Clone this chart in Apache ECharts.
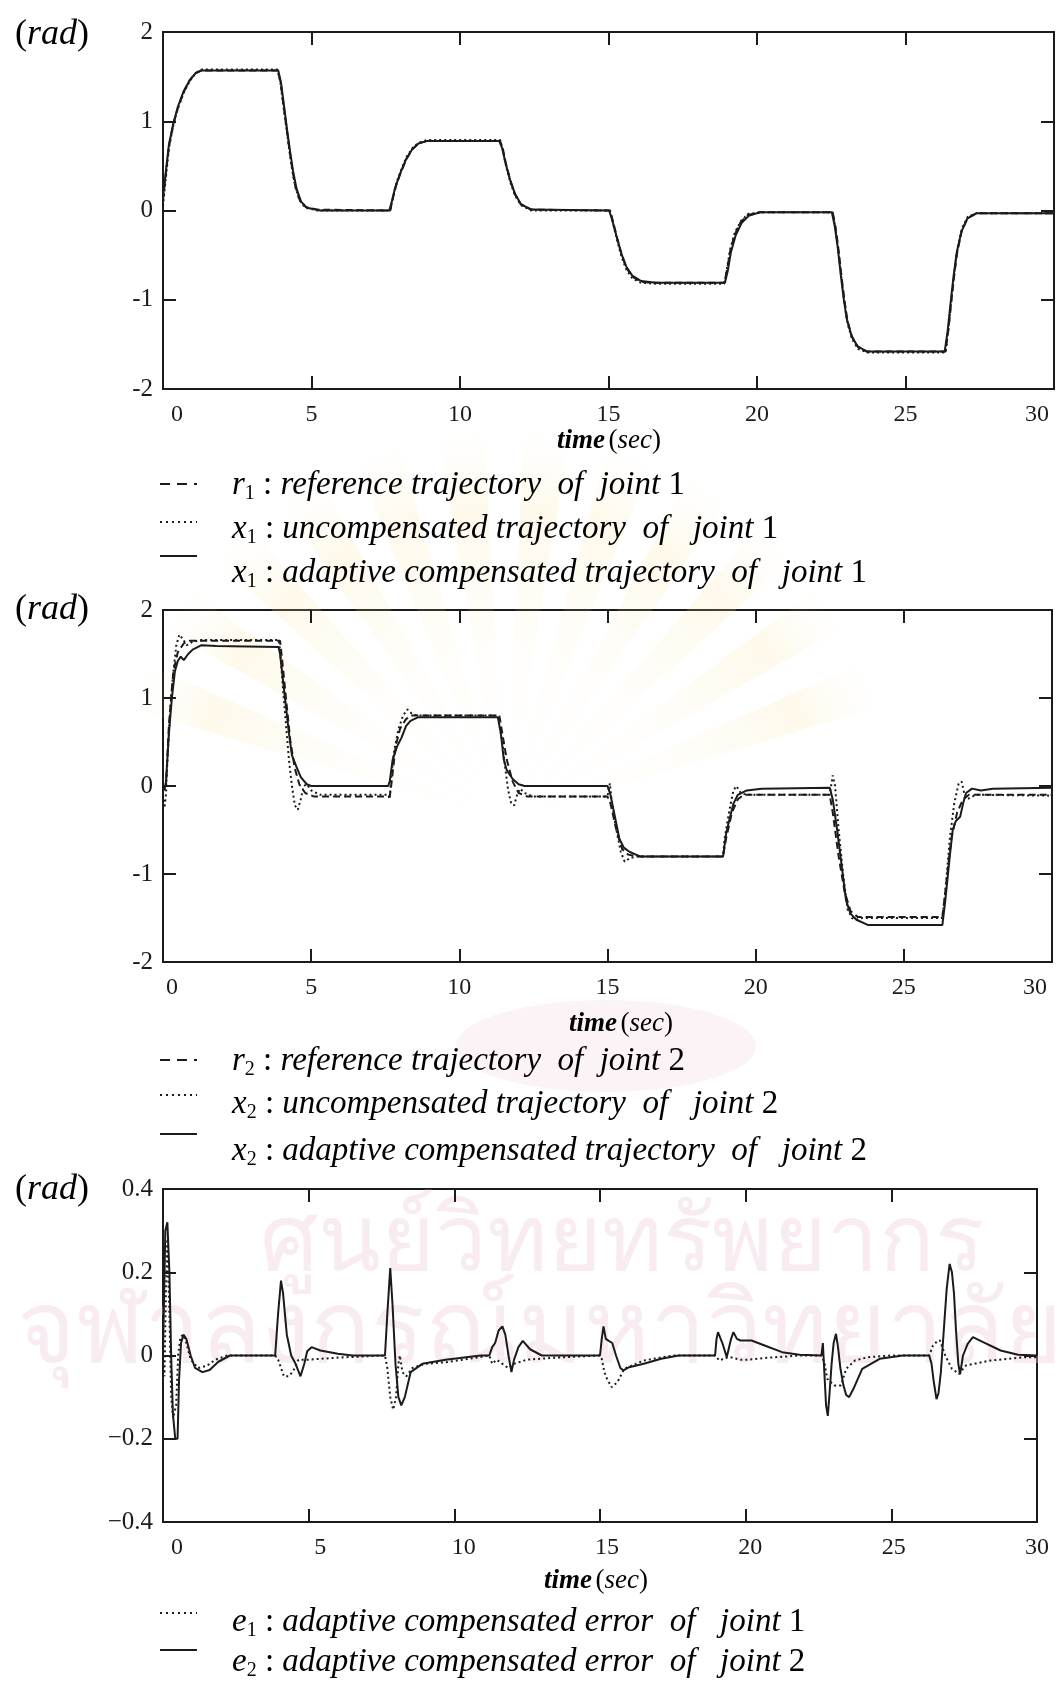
<!DOCTYPE html>
<html>
<head>
<meta charset="utf-8">
<script src="https://cdn.jsdelivr.net/npm/echarts@6/dist/echarts.min.js"></script>
<style>
  html, body { margin: 0; padding: 0; background: #ffffff; }
  #chart { width: 1061px; height: 1683px; }
</style>
</head>
<body>
<div id="chart"></div>
<script>
// ---- axis ticks --------------------------------------------------------
const timeTicks = [0, 5, 10, 15, 20, 25, 30];
const angleTicks = [-2, -1, 0, 1, 2];
const errorTicks = [-0.4, -0.2, 0, 0.2, 0.4];

// ---- joint 1 : [time (sec), angle (rad)] --------------------------------
const r1 = [[0,0.12],[0.1,0.42],[0.2,0.72],[0.35,0.97],[0.5,1.15],[0.7,1.33],[0.9,1.46],[1.1,1.54],[1.3,1.57],
  [3.85,1.57],[3.95,1.46],[4.05,1.2],[4.15,0.95],[4.25,0.7],[4.35,0.47],[4.45,0.28],[4.6,0.12],[4.8,0.04],[5.2,0.01],
  [7.65,0],[7.75,0.15],[7.85,0.28],[8.0,0.42],[8.2,0.58],[8.4,0.69],[8.6,0.75],[8.9,0.78],
  [11.35,0.78],[11.45,0.68],[11.55,0.52],[11.7,0.33],[11.85,0.18],[12.05,0.07],[12.4,0.01],
  [15.05,0],[15.15,-0.12],[15.3,-0.32],[15.45,-0.5],[15.6,-0.64],[15.8,-0.74],[16.1,-0.8],[16.6,-0.81],
  [18.9,-0.81],[19.0,-0.65],[19.1,-0.45],[19.25,-0.27],[19.45,-0.13],[19.7,-0.05],[20.1,-0.02],
  [22.55,-0.02],[22.65,-0.2],[22.75,-0.45],[22.85,-0.75],[22.95,-1.02],[23.05,-1.24],[23.2,-1.42],[23.4,-1.53],[23.7,-1.58],
  [26.35,-1.58],[26.45,-1.32],[26.55,-1.0],[26.65,-0.7],[26.75,-0.45],[26.9,-0.22],[27.1,-0.08],[27.4,-0.03],[30,-0.03]];
const x1Uncomp = [[0,0.05],[0.1,0.38],[0.2,0.7],[0.35,0.96],[0.5,1.14],[0.7,1.32],[0.9,1.45],[1.1,1.54],[1.3,1.58],
  [3.85,1.58],[3.95,1.44],[4.05,1.18],[4.15,0.93],[4.25,0.68],[4.35,0.45],[4.45,0.27],[4.6,0.11],[4.8,0.03],[5.2,0.0],
  [7.65,0],[7.75,0.16],[7.85,0.3],[8.0,0.44],[8.2,0.6],[8.4,0.7],[8.6,0.76],[8.9,0.79],
  [11.35,0.79],[11.45,0.67],[11.55,0.5],[11.7,0.31],[11.85,0.17],[12.05,0.06],[12.4,0.0],
  [15.05,0],[15.15,-0.14],[15.3,-0.35],[15.45,-0.53],[15.6,-0.66],[15.8,-0.76],[16.1,-0.81],[16.6,-0.82],
  [18.9,-0.82],[19.0,-0.63],[19.1,-0.43],[19.25,-0.25],[19.45,-0.12],[19.7,-0.04],[20.1,-0.02],
  [22.55,-0.02],[22.65,-0.22],[22.75,-0.48],[22.85,-0.78],[22.95,-1.05],[23.05,-1.27],[23.2,-1.44],[23.4,-1.55],[23.7,-1.59],
  [26.35,-1.59],[26.45,-1.3],[26.55,-0.98],[26.65,-0.68],[26.75,-0.43],[26.9,-0.2],[27.1,-0.07],[27.4,-0.03],[30,-0.03]];
const x1Adapt = [[0,0.15],[0.1,0.45],[0.2,0.74],[0.35,0.98],[0.5,1.16],[0.7,1.34],[0.9,1.46],[1.1,1.54],[1.3,1.57],
  [3.88,1.57],[3.98,1.42],[4.08,1.16],[4.18,0.9],[4.28,0.66],[4.38,0.44],[4.5,0.24],[4.65,0.1],[4.85,0.03],[5.3,0.0],
  [7.62,0],[7.72,0.12],[7.82,0.26],[7.98,0.41],[8.18,0.57],[8.38,0.68],[8.6,0.75],[8.9,0.78],
  [11.32,0.78],[11.42,0.7],[11.52,0.55],[11.68,0.35],[11.85,0.19],[12.05,0.07],[12.4,0.01],
  [15.02,0],[15.12,-0.1],[15.28,-0.3],[15.43,-0.48],[15.6,-0.63],[15.8,-0.73],[16.1,-0.79],[16.6,-0.81],
  [18.92,-0.81],[19.02,-0.67],[19.12,-0.47],[19.28,-0.28],[19.48,-0.14],[19.72,-0.06],[20.1,-0.02],
  [22.52,-0.02],[22.62,-0.18],[22.72,-0.42],[22.82,-0.72],[22.92,-0.99],[23.02,-1.21],[23.18,-1.4],[23.38,-1.52],[23.7,-1.58],
  [26.32,-1.58],[26.42,-1.35],[26.52,-1.03],[26.62,-0.73],[26.72,-0.48],[26.88,-0.24],[27.08,-0.09],[27.4,-0.03],[30,-0.03]];

// ---- joint 2 : [time (sec), angle (rad)] --------------------------------
const r2 = [[0,0.0],[0.1,0.0],[0.2,0.7],[0.35,1.3],[0.5,1.52],[0.7,1.62],[0.9,1.65],
  [3.95,1.65],[4.0,1.5],[4.15,1.0],[4.3,0.5],[4.45,0.2],[4.6,0.02],[4.8,-0.08],[5.1,-0.12],
  [7.65,-0.12],[7.7,0.0],[7.85,0.45],[8.0,0.65],[8.2,0.76],[8.4,0.8],
  [11.35,0.8],[11.45,0.6],[11.6,0.3],[11.8,0.05],[12.0,-0.08],[12.3,-0.12],
  [15.0,-0.12],[15.1,-0.2],[15.3,-0.5],[15.5,-0.72],[15.7,-0.78],[16.0,-0.8],
  [18.9,-0.8],[19.0,-0.6],[19.2,-0.3],[19.4,-0.15],[19.6,-0.1],
  [22.5,-0.1],[22.6,-0.3],[22.8,-0.8],[23.0,-1.2],[23.2,-1.42],[23.45,-1.49],
  [26.3,-1.49],[26.4,-1.2],[26.6,-0.6],[26.8,-0.3],[27.0,-0.15],[27.2,-0.1],[30,-0.1]];
const x2Uncomp = [[0,-0.1],[0.05,-0.25],[0.1,-0.1],[0.15,0.3],[0.25,0.9],[0.35,1.3],[0.45,1.6],[0.55,1.72],[0.65,1.68],[0.8,1.6],[1.0,1.64],[1.3,1.66],
  [3.9,1.66],[3.95,1.55],[4.05,1.1],[4.15,0.7],[4.25,0.3],[4.35,0.0],[4.45,-0.22],[4.55,-0.27],[4.65,-0.15],[4.75,0.0],[4.85,0.02],[5.0,-0.05],[5.3,-0.1],
  [7.6,-0.1],[7.65,-0.15],[7.7,0.1],[7.8,0.4],[7.95,0.65],[8.1,0.8],[8.25,0.87],[8.4,0.82],[8.6,0.8],
  [11.3,0.8],[11.35,0.82],[11.45,0.5],[11.55,0.2],[11.65,-0.05],[11.75,-0.2],[11.85,-0.22],[11.95,-0.1],[12.05,-0.03],[12.2,-0.08],[12.5,-0.12],
  [15.0,-0.12],[15.08,0.03],[15.15,-0.2],[15.3,-0.5],[15.45,-0.75],[15.58,-0.86],[15.75,-0.82],[16.0,-0.8],
  [18.9,-0.8],[18.95,-0.6],[19.1,-0.3],[19.25,-0.05],[19.35,0.0],[19.5,-0.08],[19.7,-0.1],
  [22.5,-0.1],[22.6,0.12],[22.68,0.0],[22.8,-0.5],[22.95,-1.0],[23.1,-1.4],[23.25,-1.5],[23.4,-1.52],[23.6,-1.5],
  [26.3,-1.5],[26.4,-1.2],[26.55,-0.6],[26.7,-0.2],[26.85,0.03],[26.95,0.05],[27.05,-0.1],[27.15,-0.15],[27.3,-0.12],[27.5,-0.1],[30,-0.11]];
const x2Adapt = [[0,0.0],[0.05,-0.05],[0.1,0.05],[0.2,0.6],[0.3,1.0],[0.4,1.3],[0.5,1.42],[0.6,1.47],[0.7,1.43],[0.85,1.5],[1.0,1.55],[1.3,1.6],[1.8,1.59],
  [3.9,1.58],[3.95,1.5],[4.05,1.2],[4.15,0.9],[4.25,0.6],[4.35,0.35],[4.5,0.22],[4.65,0.1],[4.85,0.02],[5.0,0.0],
  [7.6,0.0],[7.65,0.05],[7.75,0.3],[7.9,0.45],[8.05,0.55],[8.2,0.68],[8.35,0.74],[8.6,0.78],
  [11.3,0.78],[11.4,0.6],[11.5,0.3],[11.6,0.18],[11.8,0.08],[12.0,0.02],[12.2,0.0],
  [15.0,0.0],[15.1,-0.1],[15.25,-0.35],[15.4,-0.6],[15.55,-0.7],[15.75,-0.75],[16.1,-0.8],
  [18.9,-0.8],[19.0,-0.55],[19.1,-0.4],[19.25,-0.2],[19.4,-0.1],[19.7,-0.05],[20.2,-0.03],
  [22.5,-0.02],[22.6,-0.15],[22.75,-0.5],[22.9,-0.9],[23.05,-1.3],[23.2,-1.45],[23.4,-1.52],[23.8,-1.58],
  [26.3,-1.58],[26.4,-1.3],[26.55,-0.8],[26.65,-0.5],[26.75,-0.4],[26.9,-0.35],[27.0,-0.2],[27.1,-0.08],[27.3,-0.03],[27.6,-0.05],[28.0,-0.03],[30,-0.02]];

// ---- tracking errors : [time (sec), error (rad)] --------------------------
const e1 = [[0,0],[0.05,-0.05],[0.1,0.15],[0.15,0.28],[0.22,0.1],[0.28,-0.1],[0.35,-0.15],[0.45,-0.12],[0.52,0.0],[0.6,0.045],[0.7,0.05],[0.8,0.03],[0.95,-0.01],[1.2,-0.03],[1.5,-0.025],[1.8,-0.01],[2.2,0],
  [3.85,0],[3.95,-0.01],[4.05,-0.03],[4.15,-0.05],[4.3,-0.05],[4.45,-0.04],[4.65,-0.01],[5.0,-0.01],[6.0,-0.005],
  [7.62,0],[7.7,-0.03],[7.8,-0.1],[7.9,-0.13],[8.0,-0.1],[8.08,-0.02],[8.13,0.0],[8.22,-0.04],[8.35,-0.05],[8.56,-0.03],[9.0,-0.02],[9.74,-0.016],[10.5,-0.008],
  [11.2,0],[11.3,-0.02],[11.45,-0.01],[11.65,-0.02],[11.85,-0.03],[12.05,-0.02],[12.5,-0.01],[13.5,-0.005],
  [15.0,0],[15.06,-0.008],[15.15,-0.04],[15.24,-0.056],[15.4,-0.076],[15.6,-0.064],[15.83,-0.032],[16.5,-0.012],[17.5,0],
  [18.95,0],[19.1,-0.012],[19.3,-0.006],[19.46,-0.004],[19.8,-0.01],[20.06,-0.01],[20.65,-0.006],[21.85,0],
  [22.6,0],[22.7,-0.016],[22.8,-0.056],[23.04,-0.072],[23.27,-0.072],[23.45,-0.032],[23.75,-0.012],[24.2,-0.004],[25,0],
  [26.3,0],[26.43,0.024],[26.6,0.036],[26.67,0.036],[26.85,0],[27.08,-0.032],[27.32,-0.044],[27.56,-0.024],[28.4,-0.012],[29.6,-0.004],[30,-0.004]];
const e2 = [[0,0],[0.08,0.3],[0.15,0.32],[0.22,0.2],[0.28,0.0],[0.34,-0.14],[0.42,-0.2],[0.5,-0.2],[0.55,-0.06],[0.62,0.03],[0.7,0.05],[0.8,0.04],[0.95,0.0],[1.1,-0.03],[1.35,-0.04],[1.6,-0.035],[1.9,-0.015],[2.3,0],
  [3.85,0],[3.95,0.1],[4.05,0.18],[4.12,0.15],[4.25,0.05],[4.4,0.0],[4.55,-0.02],[4.72,-0.05],[4.85,-0.02],[4.95,0.01],[5.1,0.02],[5.4,0.012],[6.0,0.004],[6.5,0],
  [7.62,0],[7.7,0.1],[7.8,0.21],[7.88,0.12],[7.98,-0.02],[8.08,-0.1],[8.18,-0.12],[8.3,-0.1],[8.5,-0.04],[8.9,-0.02],[9.7,-0.01],[10.9,0],
  [11.2,0],[11.3,0.02],[11.4,0.03],[11.52,0.06],[11.65,0.07],[11.75,0.05],[11.86,0.0],[11.96,-0.04],[12.05,-0.01],[12.2,0.02],[12.35,0.035],[12.6,0.015],[13.0,0],
  [15.0,0],[15.06,0.04],[15.12,0.07],[15.2,0.04],[15.3,0.035],[15.42,0.03],[15.55,0.0],[15.7,-0.03],[15.8,-0.036],[16.0,-0.028],[16.5,-0.02],[17.1,-0.008],[17.7,0],
  [18.95,0],[19.0,0.04],[19.05,0.056],[19.2,0.03],[19.35,-0.004],[19.5,0.04],[19.58,0.056],[19.7,0.04],[19.82,0.036],[20.2,0.036],[20.65,0.024],[21.25,0.008],[21.85,0.002],
  [22.6,0],[22.65,0.03],[22.7,-0.04],[22.76,-0.12],[22.82,-0.145],[22.88,-0.09],[22.95,-0.02],[23.02,0.03],[23.1,0.052],[23.17,0.02],[23.25,-0.03],[23.35,-0.07],[23.45,-0.095],[23.55,-0.1],[23.7,-0.08],[24.0,-0.032],[24.6,-0.008],[25.4,0],
  [26.3,0],[26.38,-0.02],[26.45,-0.06],[26.55,-0.105],[26.62,-0.09],[26.7,-0.04],[26.8,0.06],[26.9,0.16],[27.0,0.22],[27.08,0.2],[27.15,0.15],[27.22,0.06],[27.3,-0.02],[27.36,-0.045],[27.46,0.0],[27.62,0.028],[27.8,0.044],[28.15,0.032],[28.75,0.012],[29.35,0.002],[30,0]];

// ---- legend captions ----------------------------------------------------
const legend1 = [['r', '1', 'reference trajectory  of  joint ', '1'],
                 ['x', '1', 'uncompensated trajectory  of   joint ', '1'],
                 ['x', '1', 'adaptive compensated trajectory  of   joint ', '1']];
const legend2 = [['r', '2', 'reference trajectory  of  joint ', '2'],
                 ['x', '2', 'uncompensated trajectory  of   joint ', '2'],
                 ['x', '2', 'adaptive compensated trajectory  of   joint ', '2']];
const legend3 = [['e', '1', 'adaptive compensated error  of   joint ', '1'],
                 ['e', '2', 'adaptive compensated error  of   joint ', '2']];

// ---- styling ------------------------------------------------------------
const SERIF = 'Liberation Serif, Times New Roman, serif';
const INK = '#1b1b1b';
const DASH = [7, 4];
const DOT = [2, 3];

// labelShift: the end labels of the time axis sit a little inside the frame
const panels = [
  { box: { left: 163, top: 32, width: 891, height: 357 }, labelShift: [14, -17],
    yMin: -2, yMax: 2, yStep: 1, minus: '-',
    series: [[r1, DASH], [x1Uncomp, DOT], [x1Adapt, 'solid']] },
  { box: { left: 163, top: 610, width: 889, height: 352 }, labelShift: [9, -17],
    yMin: -2, yMax: 2, yStep: 1, minus: '-',
    series: [[r2, DASH], [x2Uncomp, DOT], [x2Adapt, 'solid']] },
  { box: { left: 163, top: 1189, width: 874, height: 333 }, labelBox: { left: 177, width: 860 },
    yMin: -0.4, yMax: 0.4, yStep: 0.2, minus: '\u2212',
    series: [[e1, DOT], [e2, 'solid']] }
];

const grid = [], xAxis = [], yAxis = [], series = [];
const tickStyle = { show: true, inside: true, length: 13, lineStyle: { color: INK, width: 2 } };
const noLine = { show: false, onZero: false };
const labelFont = { color: INK, fontFamily: SERIF, fontSize: 24 };

panels.forEach(function (p) {
  const g = grid.length;
  grid.push(Object.assign({ show: true, borderColor: INK, borderWidth: 2, backgroundColor: 'transparent' }, p.box));

  const xi = xAxis.length;
  const tMin = timeTicks[0], tMax = timeTicks[timeTicks.length - 1], tStep = timeTicks[1] - timeTicks[0];
  let bottomLabel = { show: false };
  if (p.labelShift) {
    const sh = p.labelShift;
    bottomLabel = Object.assign({ show: true, margin: 14,
      formatter: function (v) {
        if (v === tMin) return '{a|' + v + '}';
        if (v === tMax) return '{z|' + v + '}';
        return '{m|' + v + '}';
      },
      rich: {
        a: Object.assign({ padding: [0, 0, 0, 2 * sh[0]] }, labelFont),
        z: Object.assign({ padding: [0, -2 * sh[1], 0, 0] }, labelFont),
        m: Object.assign({}, labelFont)
      } }, labelFont);
  }
  // bottom and top frame edges carry inward ticks
  xAxis.push({ type: 'value', gridIndex: g, min: tMin, max: tMax, interval: tStep, position: 'bottom',
    axisLine: noLine, axisTick: tickStyle, axisLabel: bottomLabel, splitLine: { show: false } });
  xAxis.push({ type: 'value', gridIndex: g, min: tMin, max: tMax, interval: tStep, position: 'top',
    axisLine: noLine, axisTick: tickStyle, axisLabel: { show: false }, splitLine: { show: false } });

  const yi = yAxis.length;
  yAxis.push({ type: 'value', gridIndex: g, min: p.yMin, max: p.yMax, interval: p.yStep, position: 'left',
    axisLine: noLine, axisTick: tickStyle, splitLine: { show: false },
    axisLabel: Object.assign({ show: true, margin: 10, fontSize: 25,
      formatter: function (v) { const r = Math.round(v * 10) / 10; return String(r).replace('-', p.minus); } },
      { color: INK, fontFamily: SERIF }) });
  yAxis.push({ type: 'value', gridIndex: g, min: p.yMin, max: p.yMax, interval: p.yStep, position: 'right',
    axisLine: noLine, axisTick: tickStyle, axisLabel: { show: false }, splitLine: { show: false } });

  if (p.labelBox) {
    // separate scale for the printed time labels
    const lg = grid.length;
    grid.push({ show: false, left: p.labelBox.left, width: p.labelBox.width, top: p.box.top, height: p.box.height });
    xAxis.push({ type: 'value', gridIndex: lg, min: tMin, max: tMax, interval: tStep, position: 'bottom',
      axisLine: noLine, axisTick: { show: false }, splitLine: { show: false },
      axisLabel: Object.assign({ show: true, margin: 14 }, labelFont) });
    yAxis.push({ type: 'value', gridIndex: lg, min: p.yMin, max: p.yMax, show: false });
  }

  p.series.forEach(function (s) {
    series.push({ type: 'line', xAxisIndex: xi, yAxisIndex: yi, data: s[0], symbol: 'none', showSymbol: false,
      clip: true, silent: true, z: 3,
      lineStyle: { color: INK, width: 2, type: s[1] } });
  });
});

// ---- annotation text ------------------------------------------------------
const rich = {
  i: { fontFamily: SERIF, fontStyle: 'italic', fontSize: 33, lineHeight: 38, color: INK },
  n: { fontFamily: SERIF, fontSize: 33, lineHeight: 38, color: INK },
  s: { fontFamily: SERIF, fontSize: 20, lineHeight: 22, verticalAlign: 'bottom', color: INK },
  b: { fontFamily: SERIF, fontStyle: 'italic', fontWeight: 'bold', fontSize: 27, lineHeight: 34, color: INK },
  t: { fontFamily: SERIF, fontStyle: 'italic', fontSize: 27, lineHeight: 34, color: INK },
  p: { fontFamily: SERIF, fontSize: 27, lineHeight: 34, color: INK },
  ri: { fontFamily: SERIF, fontStyle: 'italic', fontSize: 36, lineHeight: 42, color: INK },
  rp: { fontFamily: SERIF, fontSize: 36, lineHeight: 42, color: INK }
};

function label(x, y, text, align) {
  return { type: 'text', x: x, y: y, z: 5, silent: true,
    style: { text: text, rich: rich, align: align || 'left', verticalAlign: 'middle' } };
}
function sample(y, dash) {
  return { type: 'line', z: 5, silent: true, shape: { x1: 160, y1: y, x2: 197, y2: y },
    style: { stroke: INK, lineWidth: 2, lineDash: dash } };
}
function caption(row) {
  return '{i|' + row[0] + '}{s|' + row[1] + '}{n| : }{i|' + row[2] + '}{n|' + row[3] + '}';
}

// pale emblem behind the page: a fan of rays and an oval
const emblem = [];
const fanX = 505, fanY = 820, fanR = 390;
for (let k = 0; k < 12; k++) {
  const a = (-160 + k * 12.7) * Math.PI / 180, w = 3.4 * Math.PI / 180;
  emblem.push({ type: 'polygon', z: 0, silent: true,
    shape: { points: [[fanX, fanY],
      [fanX + fanR * Math.cos(a - w), fanY + fanR * Math.sin(a - w)],
      [fanX + fanR * Math.cos(a + w), fanY + fanR * Math.sin(a + w)]] },
    style: { fill: new echarts.graphic.RadialGradient(fanX, fanY, fanR, [
      { offset: 0, color: 'rgba(250,230,165,0)' },
      { offset: 0.45, color: 'rgba(250,230,165,0.06)' },
      { offset: 0.8, color: 'rgba(250,226,155,0.2)' },
      { offset: 1, color: 'rgba(250,235,190,0)' }], true) } });
}
emblem.push({ type: 'ellipse', z: 0, silent: true, shape: { cx: 606, cy: 1046, rx: 150, ry: 46 },
  style: { fill: 'rgba(240,200,218,0.22)' } });

const graphic = emblem.concat([
  // library watermark
  { type: 'text', x: 622, y: 1245, z: 0, silent: true,
    style: { text: 'ศูนย์วิทยทรัพยากร', font: '92px sans-serif', fill: 'rgba(236,204,220,0.38)', align: 'center', verticalAlign: 'middle' } },
  { type: 'text', x: 540, y: 1334, z: 0, silent: true,
    style: { text: 'จุฬาลงกรณ์มหาวิทยาลัย', font: '100px sans-serif', fill: 'rgba(236,204,220,0.38)', align: 'center', verticalAlign: 'middle' } },

  label(52, 35, '{rp|(}{ri|rad}{rp|)}', 'center'),
  label(52, 610, '{rp|(}{ri|rad}{rp|)}', 'center'),
  label(52, 1190, '{rp|(}{ri|rad}{rp|)}', 'center'),

  label(609, 441, '{b|time} {p|(}{t|sec}{p|)}', 'center'),
  label(621, 1024, '{b|time} {p|(}{t|sec}{p|)}', 'center'),
  label(596, 1581, '{b|time} {p|(}{t|sec}{p|)}', 'center'),

  sample(484, [10, 7]), label(232, 485, caption(legend1[0])),
  sample(522, [2, 4]),  label(232, 529, caption(legend1[1])),
  sample(556, null),    label(232, 573, caption(legend1[2])),

  sample(1060, [10, 7]), label(232, 1061, caption(legend2[0])),
  sample(1095, [2, 4]),  label(232, 1104, caption(legend2[1])),
  sample(1134, null),    label(232, 1151, caption(legend2[2])),

  sample(1613, [2, 4]),  label(232, 1622, caption(legend3[0])),
  sample(1650, null),    label(232, 1662, caption(legend3[1]))
]);

const chart = echarts.init(document.getElementById('chart'), null, { renderer: 'canvas' });
chart.setOption({
  animation: false,
  backgroundColor: '#ffffff',
  grid: grid, xAxis: xAxis, yAxis: yAxis, series: series, graphic: graphic
});
</script>
</body>
</html>
